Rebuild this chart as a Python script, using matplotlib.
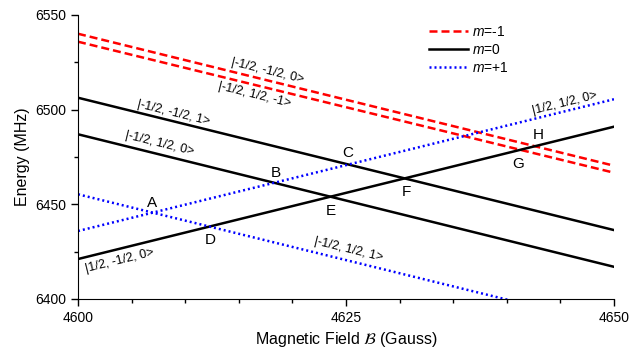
import matplotlib
matplotlib.use('Agg')
import matplotlib.pyplot as plt
from matplotlib.ticker import MultipleLocator

plt.rcParams['font.family'] = ['Liberation Sans', 'DejaVu Sans']
plt.rcParams['mathtext.fontset'] = 'custom'
plt.rcParams['mathtext.rm'] = 'Liberation Sans'
plt.rcParams['mathtext.it'] = 'Liberation Sans:italic'

# field endpoints (Gauss)
field = [4600, 4650]

# energies at the two endpoints (MHz)
red_a = [6540.1, 6470.4]      # |-1/2, -1/2, 0>
red_b = [6535.9, 6466.7]      # |-1/2, 1/2, -1>
black_a = [6506.3, 6436.4]    # |-1/2, -1/2, 1>
black_b = [6487.0, 6417.0]    # |-1/2, 1/2, 0>
black_c = [6421.1, 6491.0]    # |1/2, -1/2, 0>
blue_a = [6435.9, 6505.5]     # |1/2, 1/2, 0>
blue_b = [6455.3, 6385.8]     # |-1/2, 1/2, 1>

# crossing letters
cross_names = ['A', 'B', 'C', 'D', 'E', 'F', 'G', 'H']
cross_x = [4606.9, 4618.5, 4625.2, 4612.3, 4623.6, 4630.6, 4641.1, 4642.9]
cross_y = [6450.7, 6466.5, 6477.1, 6431.1, 6446.5, 6456.5, 6471.3, 6486.6]

# state labels
state_names = ['|-1/2, -1/2, 0>', '|-1/2, 1/2, -1>', '|-1/2, -1/2, 1>', '|-1/2, 1/2, 0>',
               '|1/2, -1/2, 0>', '|-1/2, 1/2, 1>', '|1/2, 1/2, 0>']
state_x = [4617.7, 4616.5, 4608.9, 4607.6, 4603.9, 4625.2, 4645.4]
state_y = [6520.4, 6507.7, 6498.2, 6481.9, 6420.0, 6425.9, 6503.5]
state_rot = [-13.8, -13.8, -13.8, -13.8, 13.8, -13.8, 13.8]

fig = plt.figure(figsize=(6.31, 3.52), dpi=100)
ax = fig.add_axes([0.1236, 0.1506, 0.8494, 0.8068])

dash = (0, (3.2, 1.6))
dot = (0, (0.8, 1.2))
ax.plot(field, red_a, color='red', lw=1.8, ls=dash, label='$m$=-1')
ax.plot(field, red_b, color='red', lw=1.8, ls=dash)
ax.plot(field, black_a, color='black', lw=1.8, label='$m$=0')
ax.plot(field, black_b, color='black', lw=1.8)
ax.plot(field, black_c, color='black', lw=1.8)
ax.plot(field, blue_a, color='blue', lw=1.8, ls=dot, label='$m$=+1')
ax.plot(field, blue_b, color='blue', lw=1.8, ls=dot)

for name, x, y in zip(cross_names, cross_x, cross_y):
    ax.text(x, y, name, fontsize=11, ha='center', va='center')

for name, x, y, r in zip(state_names, state_x, state_y, state_rot):
    ax.text(x, y, name, fontsize=9, ha='center', va='center', rotation=r,
            rotation_mode='anchor')

ax.set_xlim(4600, 4650)
ax.set_ylim(6400, 6550)
ax.set_xticks([4600, 4625, 4650])
ax.set_yticks([6400, 6450, 6500, 6550])
ax.xaxis.set_minor_locator(MultipleLocator(5))
ax.yaxis.set_minor_locator(MultipleLocator(25))
ax.tick_params(which='major', length=5, width=1, labelsize=10)
ax.tick_params(which='minor', length=3, width=1)
for s in ['top', 'right']:
    ax.spines[s].set_visible(False)

ax.set_xlabel(r'Magnetic Field $\mathcal{B}$ (Gauss)', fontsize=11.5, math_fontfamily='stix')
ax.set_ylabel('Energy (MHz)', fontsize=11.5)

ax.legend(loc='upper left', bbox_to_anchor=(0.632, 1.01), frameon=False, fontsize=10,
          handlelength=2.8, handletextpad=0.3, labelspacing=0.3)

fig.savefig('out.png', dpi=100)
